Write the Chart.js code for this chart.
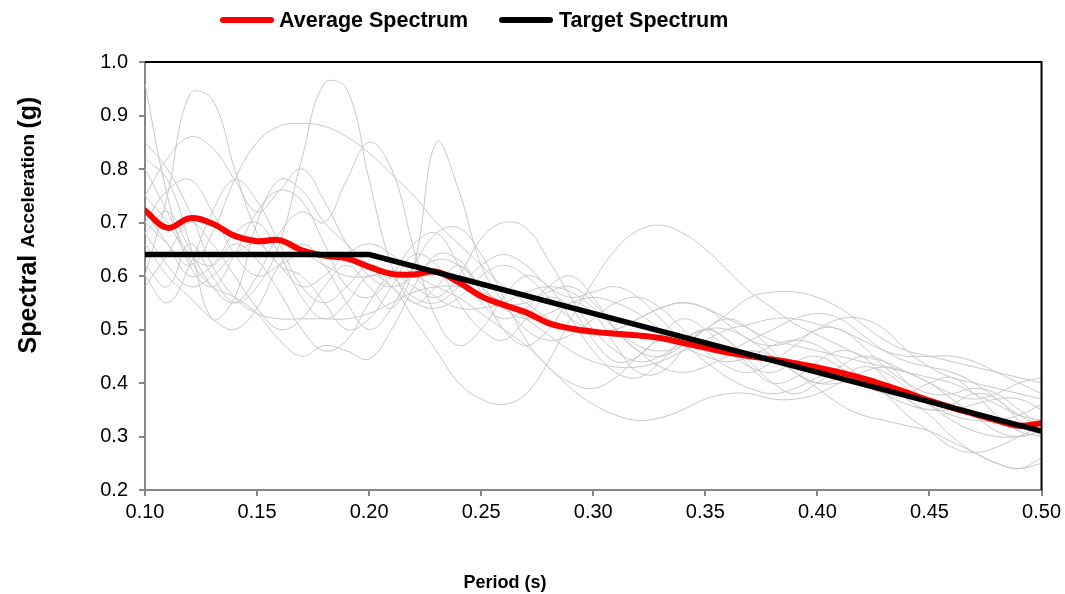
<!DOCTYPE html>
<html>
<head>
<meta charset="utf-8">
<script src="https://cdn.jsdelivr.net/npm/chart.js@4.4.1/dist/chart.umd.min.js"></script>
<style>
  html, body { margin: 0; padding: 0; background: #fff; }
  #wrap { width: 1065px; height: 594px; }
</style>
</head>
<body>
<div id="wrap"><canvas id="spectraChart" width="1065" height="594"></canvas></div>
<script>
// Period (s) sampling of the spectra
const periods = [0.10, 0.11, 0.12, 0.13, 0.14, 0.15, 0.16, 0.17, 0.18, 0.19,
                 0.20, 0.21, 0.22, 0.23, 0.24, 0.25, 0.26, 0.27, 0.28, 0.29,
                 0.30, 0.31, 0.32, 0.33, 0.34, 0.35, 0.36, 0.37, 0.38, 0.39,
                 0.40, 0.41, 0.42, 0.43, 0.44, 0.45, 0.46, 0.47, 0.48, 0.49, 0.50];

// Individual record spectra (g)
const rec01 = [0.62,0.58,0.66,0.60,0.55,0.58,0.66,0.82,0.96,0.95, 0.78,0.62,0.55,0.58,0.62,0.57,0.50,0.47,0.50,0.55, 0.53,0.47,0.42,0.42,0.46,0.50,0.48,0.43,0.40,0.41, 0.44,0.46,0.45,0.41,0.37,0.35,0.36,0.38,0.37,0.33, 0.30];
const rec02 = [0.60,0.75,0.94,0.93,0.80,0.68,0.62,0.60,0.55,0.50, 0.52,0.58,0.64,0.62,0.55,0.50,0.48,0.52,0.56,0.54, 0.48,0.44,0.45,0.49,0.52,0.50,0.46,0.43,0.42,0.44, 0.45,0.43,0.40,0.38,0.38,0.40,0.41,0.38,0.34,0.31, 0.30];
const rec03 = [0.96,0.75,0.62,0.58,0.64,0.72,0.76,0.74,0.66,0.58, 0.56,0.60,0.66,0.68,0.62,0.55,0.52,0.54,0.58,0.60, 0.56,0.50,0.46,0.45,0.47,0.50,0.52,0.50,0.46,0.42, 0.40,0.41,0.43,0.42,0.39,0.36,0.34,0.33,0.33,0.34, 0.36];
const rec04 = [0.70,0.66,0.62,0.68,0.78,0.85,0.88,0.885,0.88,0.86, 0.83,0.79,0.75,0.70,0.66,0.62,0.58,0.55,0.52,0.50, 0.49,0.50,0.52,0.54,0.55,0.54,0.52,0.50,0.48,0.47, 0.46,0.45,0.44,0.43,0.42,0.41,0.40,0.38,0.36,0.34, 0.33];
const rec05 = [0.68,0.72,0.65,0.58,0.55,0.60,0.68,0.72,0.70,0.78, 0.85,0.80,0.65,0.52,0.47,0.50,0.56,0.60,0.58,0.52, 0.46,0.42,0.41,0.44,0.48,0.50,0.48,0.44,0.40,0.38, 0.40,0.43,0.45,0.44,0.40,0.36,0.33,0.31,0.30,0.30, 0.31];
const rec06 = [0.58,0.64,0.70,0.66,0.60,0.54,0.50,0.52,0.58,0.62, 0.58,0.54,0.62,0.85,0.76,0.62,0.55,0.50,0.48,0.49, 0.52,0.55,0.56,0.54,0.50,0.46,0.43,0.42,0.44,0.47, 0.50,0.50,0.47,0.43,0.40,0.38,0.38,0.39,0.38,0.35, 0.32];
const rec07 = [0.72,0.66,0.60,0.62,0.68,0.70,0.64,0.56,0.52,0.55, 0.60,0.58,0.52,0.46,0.40,0.37,0.36,0.38,0.44,0.52, 0.59,0.65,0.685,0.695,0.68,0.65,0.61,0.57,0.54,0.51, 0.49,0.47,0.45,0.44,0.42,0.40,0.37,0.34,0.31,0.30, 0.31];
const rec08 = [0.80,0.72,0.64,0.62,0.66,0.63,0.57,0.50,0.46,0.48, 0.55,0.60,0.58,0.56,0.60,0.67,0.70,0.69,0.63,0.56, 0.50,0.46,0.44,0.45,0.48,0.50,0.50,0.48,0.45,0.42, 0.40,0.40,0.41,0.40,0.37,0.34,0.30,0.27,0.25,0.24, 0.26];
const rec09 = [0.66,0.60,0.56,0.52,0.50,0.54,0.62,0.66,0.62,0.55, 0.50,0.54,0.62,0.68,0.69,0.64,0.56,0.48,0.43,0.40, 0.39,0.41,0.45,0.48,0.47,0.44,0.41,0.39,0.38,0.39, 0.41,0.42,0.41,0.38,0.34,0.31,0.28,0.27,0.28,0.30, 0.32];
const rec10 = [0.70,0.76,0.78,0.72,0.64,0.60,0.62,0.64,0.62,0.60, 0.60,0.61,0.60,0.58,0.56,0.53,0.50,0.47,0.43,0.39, 0.36,0.34,0.33,0.335,0.35,0.37,0.38,0.38,0.37,0.37, 0.38,0.40,0.42,0.43,0.42,0.40,0.38,0.37,0.38,0.40, 0.41];
const rec11 = [0.75,0.70,0.63,0.58,0.56,0.53,0.48,0.45,0.47,0.46, 0.445,0.50,0.58,0.64,0.63,0.58,0.55,0.55,0.57,0.58, 0.55,0.50,0.46,0.43,0.42,0.43,0.45,0.46,0.45,0.42, 0.39,0.36,0.34,0.33,0.32,0.31,0.29,0.27,0.25,0.24, 0.25];
const rec12 = [0.82,0.78,0.66,0.52,0.56,0.70,0.78,0.76,0.70,0.66, 0.62,0.58,0.55,0.54,0.56,0.60,0.62,0.60,0.56,0.52, 0.50,0.50,0.52,0.54,0.55,0.54,0.51,0.48,0.47,0.48, 0.50,0.52,0.52,0.50,0.46,0.43,0.41,0.40,0.39,0.38, 0.37];
const rec13 = [0.60,0.55,0.62,0.72,0.78,0.74,0.66,0.58,0.55,0.58, 0.62,0.60,0.56,0.55,0.58,0.62,0.64,0.62,0.58,0.56, 0.57,0.58,0.56,0.52,0.48,0.46,0.46,0.48,0.50,0.52, 0.53,0.52,0.49,0.46,0.44,0.43,0.42,0.40,0.37,0.34, 0.32];
const rec14 = [0.85,0.80,0.72,0.62,0.56,0.53,0.52,0.52,0.52,0.52, 0.53,0.55,0.57,0.58,0.58,0.57,0.55,0.52,0.49,0.46, 0.44,0.43,0.43,0.44,0.46,0.48,0.50,0.51,0.52,0.52, 0.51,0.50,0.48,0.46,0.45,0.45,0.45,0.44,0.42,0.40, 0.38];
const rec15 = [0.75,0.82,0.86,0.84,0.78,0.72,0.76,0.80,0.74,0.66, 0.60,0.58,0.60,0.63,0.62,0.58,0.54,0.52,0.53,0.55, 0.56,0.55,0.53,0.50,0.47,0.45,0.44,0.45,0.47,0.48, 0.47,0.44,0.41,0.38,0.36,0.35,0.35,0.36,0.37,0.37, 0.35];
const rec16 = [0.68,0.62,0.58,0.60,0.64,0.66,0.62,0.58,0.60,0.64, 0.66,0.64,0.60,0.56,0.54,0.54,0.55,0.57,0.58,0.57, 0.54,0.50,0.47,0.46,0.47,0.50,0.53,0.56,0.57,0.57, 0.56,0.54,0.51,0.48,0.46,0.45,0.44,0.43,0.42,0.41, 0.40];
const records = [rec01, rec02, rec03, rec04, rec05, rec06, rec07, rec08,
                 rec09, rec10, rec11, rec12, rec13, rec14, rec15, rec16];

// Average spectrum (red)
const averageSpectrum = [0.722,0.690,0.708,0.698,0.675,0.665,0.667,0.648,0.638,0.633, 0.617,0.604,0.603,0.608,0.588,0.562,0.546,0.532,0.512,0.502, 0.496,0.492,0.489,0.484,0.475,0.466,0.457,0.450,0.444,0.437, 0.429,0.420,0.409,0.396,0.382,0.367,0.354,0.342,0.330,0.320, 0.325];

// Target spectrum (black)
const targetPeriods = [0.10, 0.20, 0.50];
const targetSpectrum = [0.64, 0.64, 0.31];

const FONT = "'Liberation Sans', Arial, sans-serif";
const AXIS_GREY = "#868686";

const toPoints = (xs, ys) => xs.map((x, i) => ({ x: x, y: ys[i] }));

const datasets = [
  {
    label: "Target Spectrum",
    data: toPoints(targetPeriods, targetSpectrum),
    borderColor: "#000",
    borderWidth: 5.5,
    tension: 0,
    borderCapStyle: "round",
    pointRadius: 0
  },
  {
    label: "Average Spectrum",
    data: toPoints(periods, averageSpectrum),
    borderColor: "#ff0000",
    borderWidth: 6,
    tension: 0.4,
    borderCapStyle: "round",
    pointRadius: 0
  }
];
records.forEach((r, i) => {
  datasets.push({
    label: "Record " + (i + 1),
    data: toPoints(periods, r),
    borderColor: "#c8c8c8",
    borderWidth: 1,
    tension: 0.4,
    pointRadius: 0
  });
});

// legend, axis titles and the black top/right frame
const decorations = {
  id: "decorations",
  afterDraw(chart) {
    const { ctx, chartArea: a } = chart;
    ctx.save();

    ctx.strokeStyle = "#000";
    ctx.lineWidth = 2;
    ctx.beginPath();
    ctx.moveTo(a.left, a.top);
    ctx.lineTo(a.right, a.top);
    ctx.lineTo(a.right, a.bottom);
    ctx.stroke();

    // legend
    ctx.lineCap = "round";
    ctx.lineWidth = 6;
    ctx.strokeStyle = "#ff0000";
    ctx.beginPath(); ctx.moveTo(223, 20); ctx.lineTo(271, 20); ctx.stroke();
    ctx.strokeStyle = "#000";
    ctx.beginPath(); ctx.moveTo(502, 20); ctx.lineTo(550, 20); ctx.stroke();
    ctx.fillStyle = "#000";
    ctx.textBaseline = "middle";
    ctx.textAlign = "left";
    ctx.font = "bold 21.5px " + FONT;
    ctx.fillText("Average Spectrum", 279, 21);
    ctx.fillText("Target Spectrum", 559, 21);

    // x title
    ctx.textAlign = "center";
    ctx.font = "bold 18px " + FONT;
    ctx.fillText("Period (s)", 505, 583);

    // y title, mixed sizes
    const parts = [
      { t: "Spectral ", f: "bold 25px " + FONT },
      { t: "Acceleration ", f: "bold 19px " + FONT },
      { t: "(g)", f: "bold 25px " + FONT }
    ];
    let total = 0;
    parts.forEach(p => { ctx.font = p.f; p.w = ctx.measureText(p.t).width; total += p.w; });
    ctx.translate(29, 225);
    ctx.rotate(-Math.PI / 2);
    ctx.textAlign = "left";
    let x = -total / 2;
    parts.forEach(p => { ctx.font = p.f; ctx.fillText(p.t, x, 0); x += p.w; });

    ctx.restore();
  }
};

new Chart(document.getElementById("spectraChart"), {
  type: "line",
  data: { datasets: datasets },
  options: {
    responsive: false,
    animation: false,
    devicePixelRatio: 1,
    layout: { padding: { top: 62, right: 23, left: 0, bottom: 0 } },
    plugins: {
      legend: { display: false },
      tooltip: { enabled: false }
    },
    scales: {
      x: {
        type: "linear",
        min: 0.1,
        max: 0.5,
        afterFit: s => { s.height = 104; },
        ticks: {
          stepSize: 0.05,
          padding: 4,
          color: "#000",
          font: { family: FONT, size: 20 },
          callback: v => Number(v).toFixed(2)
        },
        grid: { drawOnChartArea: false, tickLength: 6, color: AXIS_GREY, lineWidth: 2 },
        border: { color: AXIS_GREY, width: 2 }
      },
      y: {
        min: 0.2,
        max: 1.0,
        afterFit: s => { s.width = 145; },
        ticks: {
          stepSize: 0.1,
          padding: 11,
          color: "#000",
          font: { family: FONT, size: 20 },
          callback: v => Number(v).toFixed(1)
        },
        grid: { drawOnChartArea: false, tickLength: 6, color: AXIS_GREY, lineWidth: 2 },
        border: { color: AXIS_GREY, width: 2 }
      }
    }
  },
  plugins: [decorations]
});
</script>
</body>
</html>
